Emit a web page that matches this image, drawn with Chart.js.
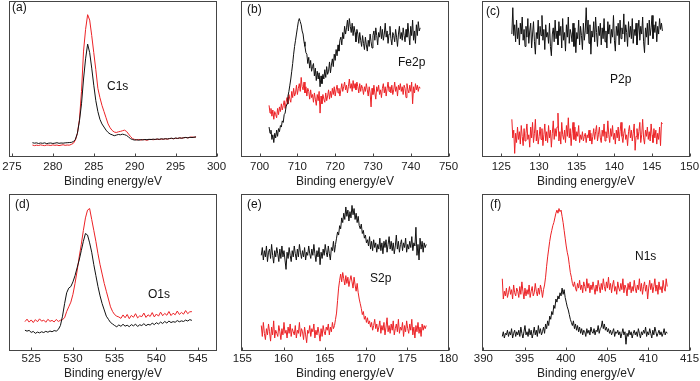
<!DOCTYPE html>
<html><head><meta charset="utf-8">
<script src="https://cdn.jsdelivr.net/npm/chart.js@4.4.0/dist/chart.umd.min.js"></script>
<style>
html,body{margin:0;padding:0;background:#fff;overflow:hidden;width:700px;height:381px;position:relative}
canvas{position:absolute}
</style></head><body>
<canvas id="pa"></canvas><canvas id="pb"></canvas><canvas id="pc"></canvas>
<canvas id="pd"></canvas><canvas id="pe"></canvas><canvas id="pf"></canvas>
<script>
// ---------- data (intensity in arbitrary units, 0-100 of panel height) ----------
// (a) C1s : 277.5 .. 297.5 eV, step 0.25
const c1sStart = 277.5, c1sStep = 0.25;
const c1sBlack = [8.9,8.6,8.8,8.4,8.7,8.5,8.8,8.3,8.6,8.7,8.4,8.6,8.9,8.5,8.7,8.6,8.8,8.9,9.0,
 9.1,9.6,11.0,15,23,34,50,63,72.5,67,57,46,36,29,24,21,19,17,15.5,14.5,14.0,13.4,13.8,14.2,14.0,14.4,14.1,13.6,12.6,11.5,10.9,10.6,
 10.8,10.5,10.9,10.7,11.0,10.8,11.1,10.9,11.2,11.0,11.3,11.1,11.4,11.2,11.5,11.3,11.6,11.8,11.5,11.9,11.7,12.0,11.8,12.1,12.3,12.0,12.4,12.2,12.5,12.6];
const c1sRed = [7.4,7.0,7.3,7.1,7.5,7.2,7.0,7.4,7.3,7.1,7.5,7.2,7.4,7.0,7.3,7.6,7.2,7.4,7.3,
 7.8,8.5,10.5,15,24,42,68,82,91.5,88,78,67,56,44,38,33,29,25,21,18.5,16.8,15.8,15.5,15.9,16.2,16.6,17.0,16.2,14.5,12.8,11.5,11.0,
 10.7,11.0,10.6,10.9,10.8,10.5,10.9,11.1,10.8,11.0,11.2,10.9,11.3,11.1,11.4,11.2,11.5,11.7,11.4,11.8,11.6,12.0,11.8,12.1,12.3,12.0,12.4,12.6,12.3,12.7];

// (b) Fe2p : 702.5 .. 742.5 eV, step 0.25
const fe2pStart = 702.5, fe2pStep = 0.25;
const fe2pBlack = [
 19,15,17,11, 14,9,15,12, 17,13,18,16, 20,19,23,22, 27,28,32,34, 39,42,46,50, 55,60,66,71, 75,79,83,87, 89,87,85,81, 79,74,71,67,
 66,60,64,57, 62,55,58,60, 52,57,49,55, 50,54,45,52, 47,53,50,56, 51,58,53,55, 61,54,59,63, 58,66,62,69, 65,72,68,75, 77,72,80,76,
 84,79,83,88, 81,89,84,80, 86,78,84,80, 74,82,79,73, 80,75,71,78, 73,69,77,72, 68,75,71,79, 74,70,78,81, 75,83,78,72, 80,77,84,76,
 82,75,79,86, 77,81,73,79, 84,76,72,80, 78,74,82,77, 71,79,84,76, 80,75,83,78, 74,82,77,86, 79,72,84,78, 88,75,81,73, 85,78,87,81,
 83];
const fe2pRed = [
 33,28,31,26, 30,24,29,27, 25,31,27,32, 29,34,30,33, 36,31,35,38, 34,40,37,35, 42,38,44,39, 41,46,40,44, 47,42,51,45, 43,48,41,45,
 39,44,42,37, 43,38,40,35, 41,37,33,40, 36,42,28,39, 34,40,37,35, 41,36,39,43, 37,42,38,44, 40,45,39,43, 46,41,44,39, 43,47,42,45,
 48,43,46,41, 45,50,44,47, 42,49,44,47, 43,48,45,41, 47,42,46,44, 40,45,42,47, 43,39,45,41, 32,44,40,46, 41,37,45,42, 46,40,43,38,
 44,47,41,45, 39,44,48,42, 45,41,46,40, 43,48,42,45, 39,46,43,47, 42,45,40,46, 44,38,47,43, 41,46,42,48, 34,45,41,47, 43,46,42,45,
 44];

// (c) P2p : 126.4 .. 146.4 eV, step 0.125
const p2pStart = 126.4, p2pStep = 0.125;
const p2pBlack = [
 79,96,78,85,74,88,76,83, 72,86,79,90,75,82,71,84, 77,89,73,81,86,70,79,87, 74,66,80,76,88,72,84,78,
 91,75,82,69,85,77,80,73, 86,71,65,79,83,74,88,76, 81,72,87,78,84,70,89,75, 80,68,85,77,90,73,82,79,
 74,86,71,83,67,80,76,88, 72,84,78,69,86,75,81,96, 79,88,73,85,66,81,77,87, 74,90,80,71,84,78,86,72,
 83,76,89,74,81,70,87,79, 85,73,82,77,91,75,68,84, 78,86,72,88,76,83,79,92, 74,85,80,71,87,77,84,76,
 89,73,82,78,86,72,81,88, 75,84,79,90,74,67,83,77, 86,72,88,78,83,91,76,85, 80,87,74,84,79,89,82,86,
 81];
const p2pRed = [
 24,12,17,2,15,9,19,11, 16,8,20,13,7,18,10,15, 21,11,14,6,19,12,22,9, 15,24,10,17,8,13,19,11,
 18,7,14,21,10,16,9,20, 12,17,6,15,23,11,18,13, 19,28,10,16,8,22,14,11, 17,9,20,13,25,12,18,7,
 15,22,11,19,10,16,13,20, 9,14,11,16,10,13,15,9, 14,12,17,10,15,8,13,18, 11,16,20,10,14,19,12,9,
 17,13,21,10,16,12,23,14, 9,18,13,20,11,15,8,17, 12,19,10,16,22,13,9,15, 18,11,14,7,16,20,12,17,
 10,15,21,4,13,18,11,16, 22,9,14,24,12,8,17,13, 19,11,16,10,21,14,9,18, 12,17,8,15,11,19,7,22,
 21];

// (d) O1s : 524.25 .. 544.25 eV, step 0.25
const o1sStart = 524.25, o1sStep = 0.25;
const o1sBlack = [13.0,12.4,12.9,11.6,12.2,11.0,11.8,11.3,12.0,11.5,12.3,11.7,12.5,12.0,12.8,12.4,13.5,
 16,22,30,37,40,41,44,48,53,58,64,70,75,74,69,63,55,48,41,35,30,26,22,20,18,17,16,
 15.2,16.4,15.5,16.8,15.6,16.2,15.3,16.6,15.8,16.9,15.4,16.5,16.0,17.2,15.9,16.8,16.3,17.5,16.6,17.8,17.0,18.2,17.3,18.6,17.6,18.9,17.9,18.5,18.1,19.2,18.4,19.0,18.6,19.5,18.9,19.8,19.3];
const o1sRed = [18.5,20.1,18.2,19.6,17.9,19.8,18.4,20.3,18.8,19.5,18.1,20.0,18.7,19.3,18.3,19.9,18.6,19.4,19.8,
 21,25,28,31,36,43,51,60,68,77,85,90,91,84,77,70,62,55,49,43,38,33,28,25,23,22,21.5,
 20.6,22.8,21.0,23.1,20.4,22.5,21.3,23.6,20.9,22.2,21.7,24.0,21.2,22.9,21.8,24.3,21.5,23.4,22.0,24.6,22.3,23.8,22.6,25.0,22.4,23.9,22.9,25.3,23.1,24.4,23.3,25.6,23.6,24.8,24.9];

// (e) S2p : 157.3 .. 177.3 eV, step 0.125
const s2pStart = 157.3, s2pStep = 0.125;
const s2pBlack = [
 61,66,58,64,60,67,57,63, 65,59,68,61,56,64,60,66, 62,57,65,59,67,60,64,58, 52,63,59,66,61,57,64,60,
 67,62,58,65,60,68,63,59, 64,60,66,58,63,61,67,62, 59,65,61,68,62,57,64,60, 66,55,63,59,65,61,68,63,
 60,67,62,58,66,64,70,63, 68,72,76,74,80,78,85,82, 88,84,92,86,90,83,89,85, 93,87,91,84,88,82,86,80,
 78,81,75,77,72,74,69,71, 67,73,65,70,64,71,66,69, 63,68,65,72,64,69,62,70, 66,71,63,68,73,65,70,64,
 69,62,67,74,65,70,63,68, 71,64,69,66,72,63,68,65, 70,66,73,64,69,67,79,61, 68,58,72,65,70,63,69,66,
 68];
const s2pRed = [
 16,9,18,11,7,14,10,17, 12,6,15,10,19,8,13,11, 9,16,12,7,14,10,18,11, 13,8,15,11,17,9,14,12,
 10,16,8,13,11,18,9,14, 12,7,15,10,5,13,11,16, 9,14,12,17,8,13,10,15, 11,6,14,9,16,12,10,15,
 13,17,10,15,12,18,14,16, 20,24,32,40,45,49,44,50, 46,42,48,43,47,41,45,48, 44,40,47,42,38,43,37,33,
 30,27,23,25,20,22,18,21, 17,19,15,18,13,16,20,14, 17,12,15,19,11,16,13,18, 10,15,21,12,16,11,17,13,
 19,10,14,17,12,20,11,15, 13,18,9,16,12,19,14,11, 17,13,20,10,15,8,16,12, 18,11,15,9,17,13,16,14,
 16];

// (f) N1s : 392.3 .. 412.3 eV, step 0.125
const n1sStart = 392.3, n1sStep = 0.125;
const n1sBlack = [
 9,12,8,11,10,13,9,12, 10,14,8,11,13,9,12,10, 13,9,15,11,8,12,16,10, 12,9,14,10,13,8,11,15,
 10,13,9,16,11,14,10,12, 15,11,17,14,19,16,22,20, 25,23,29,27,33,31,35,33, 37,35,40,36,39,34,31,28,
 26,23,20,18,16,19,14,17, 13,16,12,15,11,14,10,13, 12,9,14,11,13,10,15,12, 11,14,10,13,12,16,11,14,
 15,19,14,17,13,15,12,14, 11,13,10,12,14,9,12,11, 13,10,12,8,11,14,10,12, 4,11,9,13,10,12,8,11,
 13,10,12,9,14,11,8,12, 10,13,11,15,9,12,10,14, 11,8,13,10,15,12,9,11, 13,10,12,9,11,14,10,12,
 11];
const n1sRed = [
 46,33,38,35,40,34,37,41, 36,39,33,42,37,35,40,38, 34,41,36,44,38,33,40,35, 39,36,42,34,38,41,35,37,
 43,38,35,40,36,42,39,34, 39,42,47,54,60,65,70,74, 77,80,82,85,88,90,88,91, 89,90,86,82,77,72,67,63,
 60,55,50,47,43,41,44,40, 38,43,40,45,39,42,37,44, 41,38,46,40,43,37,42,39, 44,40,36,42,38,45,41,37,
 43,39,46,41,38,44,40,47, 39,43,37,42,45,38,41,36, 44,40,38,43,39,46,37,42, 40,35,43,39,44,37,41,38,
 45,40,37,42,39,46,38,43, 36,41,44,38,42,33,40,45, 39,43,37,41,46,38,42,36, 44,39,41,37,45,40,38,46,
 41];

// tick labels
const ticksA = [275,280,285,290,295,300];
const ticksB = [700,710,720,730,740,750];
const ticksC = [125,130,135,140,145,150];
const ticksD = [525,530,535,540,545];
const ticksE = [155,160,165,170,175,180];
const ticksF = [390,395,400,405,410,415];

// ---------- layout / style ----------
const FONT = '"Liberation Sans", Arial, Helvetica, sans-serif';
const BLACK = '#111111', RED = '#ec2226';
const cols = [{left: 9.5, right: 216.5}, {left: 241.5, right: 448.5}, {left: 482.5, right: 689.5}];
const rows = [
  {top: 1.5, bottom: 156.5, canvasTop: 0, canvasH: 191, tickPad: 3, titlePad: 2},
  {top: 194.5, bottom: 350.5, canvasTop: 193, canvasH: 188, tickPad: 1, titlePad: 0}
];

function series(start, step, ys) {
  return ys.map((y, i) => ({x: +(start + i * step).toFixed(4), y: y}));
}

function makeFrame(notes, ox, oy) {
  return {
    id: 'frame',
    afterDraw(chart) {
      const ctx = chart.ctx, a = chart.chartArea, xs = chart.scales.x;
      ctx.save();
      ctx.strokeStyle = '#454545';
      ctx.lineWidth = 1;
      ctx.strokeRect(a.left, a.top, a.right - a.left, a.bottom - a.top);
      xs.ticks.forEach(t => {
        const px = Math.round(xs.getPixelForValue(t.value)) + 0.5;
        ctx.beginPath(); ctx.moveTo(px, a.bottom); ctx.lineTo(px, a.bottom - 3); ctx.stroke();
      });
      ctx.fillStyle = '#111';
      ctx.font = '12px ' + FONT;
      ctx.textBaseline = 'middle';
      ctx.textAlign = 'left';
      notes.forEach(n => ctx.fillText(n.text, n.x - ox, n.y - oy));
      ctx.restore();
    }
  };
}

function makePanel(id, col, row, cfg) {
  const c = cols[col], r = rows[row];
  const cv = document.getElementById(id);
  const W = 272;
  const canvasLeft = Math.floor(c.left) - 30;
  cv.width = W; cv.height = r.canvasH;
  cv.style.left = canvasLeft + 'px'; cv.style.top = r.canvasTop + 'px';
  cv.style.width = W + 'px'; cv.style.height = r.canvasH + 'px';
  const axisH = r.canvasH - (r.bottom - r.canvasTop);
  const ds = (ys, color) => ({
    data: series(cfg.start, cfg.step, ys), showLine: true, borderColor: color,
    borderWidth: 1, pointRadius: 0, fill: false, tension: 0
  });
  new Chart(cv, {
    type: 'scatter',
    data: {datasets: [ds(cfg.black, BLACK), ds(cfg.red, RED)]},
    options: {
      responsive: false, animation: false, devicePixelRatio: 1,
      layout: {padding: {left: c.left - canvasLeft, right: W - (c.right - canvasLeft), top: r.top - r.canvasTop, bottom: 0}},
      plugins: {legend: {display: false}, tooltip: {enabled: false}},
      scales: {
        x: {
          type: 'linear', min: cfg.min, max: cfg.max,
          afterBuildTicks: s => { s.ticks = cfg.ticks.map(v => ({value: v})); },
          afterFit: s => { s.height = axisH; },
          grid: {display: false, drawTicks: false},
          border: {display: false},
          ticks: {color: '#222', font: {family: FONT, size: 11.5}, padding: r.tickPad, maxRotation: 0, autoSkip: false},
          title: {display: true, text: 'Binding energy/eV', color: '#222', font: {family: FONT, size: 12}, padding: {top: 0, bottom: r.titlePad}}
        },
        y: {display: false, min: 0, max: 100}
      }
    },
    plugins: [makeFrame(cfg.notes, canvasLeft, r.canvasTop)]
  });
}

makePanel('pa', 0, 0, {start: c1sStart, step: c1sStep, black: c1sBlack, red: c1sRed, min: 274.7, max: 300, ticks: ticksA,
  notes: [{text: '(a)', x: 12, y: 8}, {text: 'C1s', x: 107, y: 87}]});
makePanel('pb', 1, 0, {start: fe2pStart, step: fe2pStep, black: fe2pBlack, red: fe2pRed, min: 695.2, max: 750, ticks: ticksB,
  notes: [{text: '(b)', x: 247, y: 10}, {text: 'Fe2p', x: 398, y: 63}]});
makePanel('pc', 2, 0, {start: p2pStart, step: p2pStep, black: p2pBlack, red: p2pRed, min: 122.5, max: 150, ticks: ticksC,
  notes: [{text: '(c)', x: 486, y: 11.5}, {text: 'P2p', x: 610, y: 80}]});
makePanel('pd', 0, 1, {start: o1sStart, step: o1sStep, black: o1sBlack, red: o1sRed, min: 522.4, max: 547.2, ticks: ticksD,
  notes: [{text: '(d)', x: 15, y: 205}, {text: 'O1s', x: 148, y: 295}]});
makePanel('pe', 1, 1, {start: s2pStart, step: s2pStep, black: s2pBlack, red: s2pRed, min: 154.9, max: 180, ticks: ticksE,
  notes: [{text: '(e)', x: 247, y: 205}, {text: 'S2p', x: 370, y: 279}]});
makePanel('pf', 2, 1, {start: n1sStart, step: n1sStep, black: n1sBlack, red: n1sRed, min: 389.9, max: 415, ticks: ticksF,
  notes: [{text: '(f)', x: 490, y: 205}, {text: 'N1s', x: 635, y: 257}]});
</script>
</body></html>
